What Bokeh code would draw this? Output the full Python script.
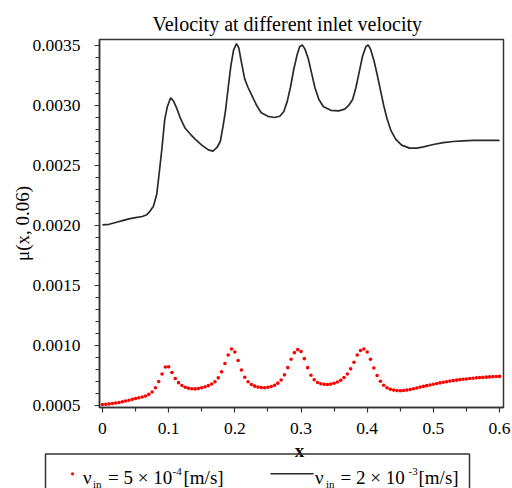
import numpy as np
from bokeh.plotting import figure
from bokeh.models import Range1d, FixedTicker, PrintfTickFormatter, Title
from bokeh.core.properties import value
from bokeh.embed import file_html
from bokeh.resources import INLINE

# ---------------- data ----------------
# series 1: v_in = 5e-4 m/s  (red dots), sampled every 0.005 from 0 to 0.6, values in 1e-4
red_mu_e4 = [
    5.08, 5.10, 5.13, 5.16, 5.20, 5.25, 5.31, 5.37, 5.44, 5.51,
    5.58, 5.64, 5.71, 5.79, 5.92, 6.12, 6.48, 7.00, 7.62, 8.20,
    8.22, 7.75, 7.25, 6.90, 6.66, 6.52, 6.43, 6.39, 6.38, 6.41,
    6.47, 6.55, 6.65, 6.79, 6.98, 7.30, 7.80, 8.50, 9.20, 9.70,
    9.45, 8.75, 7.95, 7.35, 6.98, 6.75, 6.61, 6.53, 6.49, 6.48,
    6.51, 6.58, 6.69, 6.86, 7.12, 7.55, 8.15, 8.85, 9.40, 9.65,
    9.50, 8.90, 8.15, 7.52, 7.14, 6.92, 6.81, 6.76, 6.75, 6.78,
    6.85, 6.95, 7.10, 7.32, 7.62, 8.05, 8.60, 9.20, 9.58, 9.70,
    9.45, 8.85, 8.12, 7.50, 7.02, 6.68, 6.47, 6.35, 6.28, 6.24,
    6.23, 6.24, 6.28, 6.33, 6.39, 6.46, 6.53, 6.59, 6.65, 6.71,
    6.77, 6.83, 6.88, 6.93, 6.98, 7.03, 7.07, 7.11, 7.15, 7.18,
    7.21, 7.24, 7.27, 7.30, 7.32, 7.34, 7.36, 7.38, 7.40, 7.41,
    7.42,
]
red_x = list(np.linspace(0.0, 0.6, len(red_mu_e4)))
red_mu = [v * 1e-4 for v in red_mu_e4]

# series 2: v_in = 2e-3 m/s  (black line)
black_x = [
    0.000, 0.010, 0.020, 0.030, 0.040, 0.050, 0.060, 0.067, 0.072, 0.077,
    0.082, 0.086, 0.090, 0.094, 0.098, 0.103, 0.107, 0.112, 0.118, 0.125,
    0.133, 0.140, 0.150, 0.160, 0.167, 0.173, 0.178, 0.182, 0.186, 0.190,
    0.194, 0.198, 0.2025, 0.206, 0.210, 0.215, 0.220, 0.226, 0.233, 0.240,
    0.250, 0.260, 0.268, 0.274, 0.279, 0.284, 0.289, 0.294, 0.298, 0.302,
    0.306, 0.311, 0.316, 0.321, 0.327, 0.334, 0.345, 0.357, 0.366, 0.372,
    0.378, 0.383, 0.388, 0.393, 0.398, 0.4015, 0.405, 0.410, 0.415, 0.420,
    0.425, 0.430, 0.436, 0.443, 0.452, 0.464, 0.475, 0.485, 0.500, 0.515,
    0.530, 0.545, 0.560, 0.580, 0.600,
]
black_mu = [
    0.002005, 0.002010, 0.002025, 0.002040, 0.002055, 0.002065, 0.002075, 0.002090, 0.002120, 0.002160,
    0.002260, 0.002450, 0.002650, 0.002880, 0.002990, 0.003065, 0.003040, 0.002980, 0.002890, 0.002810,
    0.002760, 0.002720, 0.002670, 0.002630, 0.002620, 0.002650, 0.002700, 0.002820, 0.002960, 0.003150,
    0.003330, 0.003460, 0.003515, 0.003480, 0.003360, 0.003220, 0.003150, 0.003080, 0.003000, 0.002940,
    0.002910, 0.002900, 0.002910, 0.002950, 0.003030, 0.003150, 0.003300, 0.003420, 0.003490, 0.003505,
    0.003470, 0.003390, 0.003270, 0.003150, 0.003050, 0.002990, 0.002960, 0.002955, 0.002970, 0.003000,
    0.003050, 0.003150, 0.003280, 0.003410, 0.003490, 0.003505, 0.003470, 0.003380, 0.003260, 0.003130,
    0.003000, 0.002890, 0.002790, 0.002720, 0.002670, 0.002645, 0.002645, 0.002655, 0.002675, 0.002690,
    0.002700, 0.002705, 0.002710, 0.002710, 0.002710,
]

x_ticks = [0, 0.1, 0.2, 0.3, 0.4, 0.5, 0.6]
x_minor = [0.05, 0.15, 0.25, 0.35, 0.45, 0.55]
y_ticks = [0.0005, 0.0010, 0.0015, 0.0020, 0.0025, 0.0030, 0.0035]

title_text = "Velocity at different inlet velocity"
x_label = "x"
y_label = "\u03bc(x, 0.06)"
# legend entries, split into main text / subscript / superscript pieces
legend_1 = ["\u03bd", "in", "= 5 \u00d7 10", "-4", "[m/s]"]
legend_2 = ["\u03bd", "in", "= 2 \u00d7 10", "-3", "[m/s]"]

# ---------------- main figure ----------------
SERIF = "Liberation Serif"
AX = "#333333"
RED = "#ff0000"
BLK = "#2a2a2a"
MAIN_H = 440

p = figure(width=512, height=MAIN_H, output_backend="svg", toolbar_location=None,
           x_range=Range1d(-0.0045, 0.606), y_range=Range1d(0.000483, 0.00355),
           min_border_left=99, min_border_right=9, min_border_top=39, min_border_bottom=33)
p.grid.visible = False
p.outline_line_color = AX
p.outline_line_width = 1.5

p.title.text = title_text
p.title.text_font = SERIF
p.title.text_font_size = "20px"
p.title.text_font_style = "normal"
p.title.text_color = "black"
p.title.align = "left"
p.title.offset = 53
p.title.standoff = 10

for ax in (p.xaxis[0], p.yaxis[0]):
    ax.axis_line_color = AX
    ax.axis_line_width = 1.5
    ax.major_tick_line_color = AX
    ax.minor_tick_line_color = AX
    ax.major_tick_line_width = 1.2
    ax.minor_tick_line_width = 1.2
    ax.major_tick_in = 0
    ax.major_tick_out = 5
    ax.minor_tick_in = 0
    ax.minor_tick_out = 4
    ax.major_label_text_font = SERIF
    ax.major_label_text_font_size = "17.5px"
    ax.major_label_text_color = "black"

p.xaxis[0].ticker = FixedTicker(ticks=x_ticks, minor_ticks=x_minor)
p.xaxis[0].formatter = PrintfTickFormatter(format="%g")
p.xaxis[0].major_label_standoff = 10

y_minor = [round(0.0005 + 0.0001 * i, 4) for i in range(31)]
p.yaxis[0].ticker = FixedTicker(ticks=y_ticks, minor_ticks=y_minor)
p.yaxis[0].formatter = PrintfTickFormatter(format="%.4f")
p.yaxis[0].major_label_standoff = 14

# y axis title (a Title in the left panel so it can be shifted along the axis)
p.add_layout(Title(text=y_label, text_font=SERIF, text_font_size="19px",
                   text_font_style="normal", text_color="black",
                   align="center", offset=-5, standoff=-6), "left")

p.line(black_x, black_mu, line_color=BLK, line_width=1.7)
p.scatter(red_x, red_mu, marker="circle", size=3.6, fill_color=RED, line_color=None)

# ---------------- strip under the plot: x-axis title and legend (pixel coords, y down) ----------------
L_H = 488 - MAIN_H
lg = figure(width=512, height=L_H, output_backend="svg", toolbar_location=None,
            x_range=Range1d(0, 512), y_range=Range1d(L_H, 0),
            min_border=0, min_border_left=0, min_border_right=0,
            min_border_top=0, min_border_bottom=0)
lg.axis.visible = False
lg.grid.visible = False
lg.outline_line_color = None


def txt(x, y, s, size, style="normal", align="left"):
    lg.text([x], [y], text=[s], text_font=value(SERIF), text_font_size=size,
            text_font_style=style, text_align=align, text_baseline="alphabetic",
            text_color="black")


# x-axis title, centred under the frame
txt(299, 9.5, x_label, "19px", style="bold", align="center")

# legend frame (its lower edge lies below the window)
lg.quad(left=[45], right=[469], top=[13.6], bottom=[L_H + 10],
        fill_color=None, line_color=AX, line_width=1.5)
lg.scatter([72], [33.3], marker="circle", size=3.2, fill_color=RED, line_color=None)
lg.segment(x0=[270], y0=[33.3], x1=[313], y1=[33.3], line_color=BLK, line_width=1.6)

for x0, parts, offs in ((82.5, legend_1, [0, 10, 25, 89.5, 100.5]),
                        (314.5, legend_2, [0, 11, 25.5, 93.5, 103.5])):
    txt(x0 + offs[0], 37, parts[0], "19px")
    txt(x0 + offs[1], 43, parts[1], "11px")
    txt(x0 + offs[2], 37, parts[2], "19px")
    txt(x0 + offs[3], 31, parts[3], "11px")
    txt(x0 + offs[4], 37, parts[4], "19px")

open("out.html", "w").write(file_html([p, lg], INLINE))
